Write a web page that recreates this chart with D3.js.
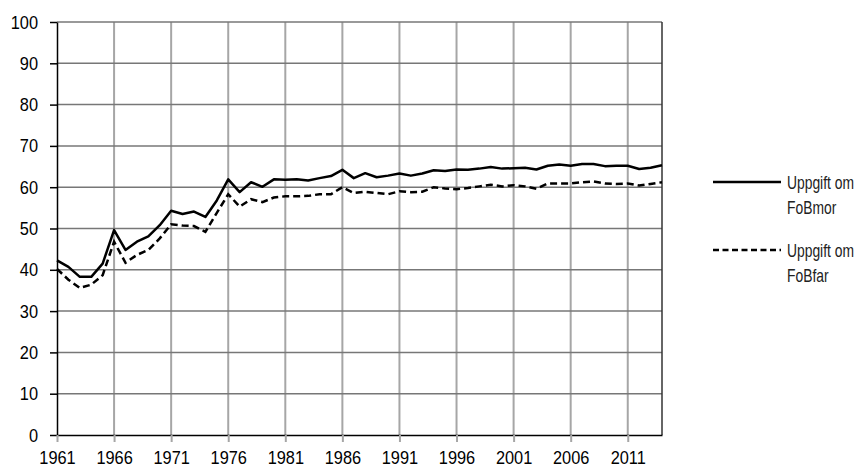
<!DOCTYPE html>
<html>
<head>
<meta charset="utf-8">
<script src="https://cdn.jsdelivr.net/npm/d3@7"></script>
<style>
  body { margin: 0; background: #fff; }
  svg text { font-family: "Liberation Sans", Arial, sans-serif; }
</style>
</head>
<body>
<div id="chart"></div>
<script>
const years = d3.range(1961, 2015);

const fobMor = [42.3, 40.7, 38.3, 38.3, 41.5, 49.6, 44.8, 46.8, 48.1, 50.8,
  54.3, 53.5, 54.1, 52.8, 56.8, 61.9, 58.8, 61.2, 60.1, 61.9,
  61.8, 61.9, 61.6, 62.2, 62.7, 64.2, 62.2, 63.4, 62.4, 62.8,
  63.3, 62.8, 63.3, 64.1, 63.9, 64.3, 64.2, 64.5, 64.9, 64.5,
  64.6, 64.7, 64.3, 65.2, 65.5, 65.2, 65.6, 65.6, 65.1, 65.2,
  65.2, 64.4, 64.7, 65.3];

const fobFar = [40.2, 37.6, 35.6, 36.4, 38.7, 46.8, 41.7, 43.6, 44.8, 47.6,
  51.0, 50.7, 50.6, 49.2, 53.8, 58.3, 55.3, 57.1, 56.4, 57.5,
  57.8, 57.8, 57.9, 58.3, 58.3, 60.0, 58.6, 58.9, 58.6, 58.3,
  59.0, 58.8, 58.9, 60.0, 59.7, 59.5, 59.8, 60.2, 60.6, 60.2,
  60.5, 60.2, 59.6, 60.9, 60.9, 60.9, 61.2, 61.4, 60.9, 60.8,
  60.9, 60.4, 60.8, 61.2];

const xTicks = [1961, 1966, 1971, 1976, 1981, 1986, 1991, 1996, 2001, 2006, 2011];
const yTicks = [0, 10, 20, 30, 40, 50, 60, 70, 80, 90, 100];
const seriesNames = ["Uppgift om FoBmor", "Uppgift om FoBfar"];

const width = 868, height = 469;
const m = { left: 57, right: 662, top: 22, bottom: 435 };

const svg = d3.select("#chart").append("svg")
  .attr("width", width)
  .attr("height", height);

const x = d3.scaleLinear().domain([1961, 2014]).range([m.left, m.right]);
const y = d3.scaleLinear().domain([0, 100]).range([m.bottom, m.top]);

// no narrow font installed, so squeeze the glyphs
function squeeze(sel, k) {
  sel.each(function () {
    const len = this.getComputedTextLength();
    d3.select(this).attr("textLength", len * k).attr("lengthAdjust", "spacingAndGlyphs");
  });
}

// vertical grid
svg.append("g")
  .selectAll("line")
  .data(xTicks.slice(1))
  .enter().append("line")
  .attr("x1", d => x(d)).attr("x2", d => x(d))
  .attr("y1", m.top).attr("y2", m.bottom)
  .attr("stroke", "#a6a6a6")
  .attr("stroke-width", 2);

// horizontal grid
svg.append("g")
  .selectAll("line")
  .data(yTicks.slice(1))
  .enter().append("line")
  .attr("x1", m.left).attr("x2", m.right)
  .attr("y1", d => y(d)).attr("y2", d => y(d))
  .attr("stroke", "#777")
  .attr("stroke-width", 1.5);

// right border
svg.append("line")
  .attr("x1", m.right).attr("x2", m.right)
  .attr("y1", m.top).attr("y2", m.bottom)
  .attr("stroke", "#333").attr("stroke-width", 1.5);

// y axis
const yAxis = svg.append("g")
  .attr("transform", `translate(${m.left},0)`)
  .call(d3.axisLeft(y).tickValues(yTicks).tickSize(7).tickPadding(12).tickSizeOuter(0));
yAxis.select(".domain").attr("stroke", "#000").attr("stroke-width", 1.5);
yAxis.selectAll(".tick line").attr("stroke", "#000").attr("stroke-width", 1.5);
yAxis.selectAll("text").attr("font-size", 19).attr("fill", "#000").style("font-family", "Liberation Sans, Arial, sans-serif")
  .call(squeeze, 0.86);

// x axis
const xAxis = svg.append("g")
  .attr("transform", `translate(0,${m.bottom})`)
  .call(d3.axisBottom(x).tickValues(xTicks).tickFormat(d3.format("d")).tickSize(7).tickPadding(9).tickSizeOuter(0));
xAxis.select(".domain").attr("stroke", "#000").attr("stroke-width", 1.5);
xAxis.selectAll(".tick line").attr("stroke", "#a6a6a6").attr("stroke-width", 2);
xAxis.selectAll("text").attr("font-size", 19).attr("fill", "#000").style("font-family", "Liberation Sans, Arial, sans-serif")
  .call(squeeze, 0.86);

// lines
const line = d3.line()
  .x((d, i) => x(years[i]))
  .y(d => y(d));

svg.append("path")
  .datum(fobMor)
  .attr("d", line)
  .attr("fill", "none")
  .attr("stroke", "#000")
  .attr("stroke-width", 2.5)
  .attr("stroke-linejoin", "round");

svg.append("path")
  .datum(fobFar)
  .attr("d", line)
  .attr("fill", "none")
  .attr("stroke", "#000")
  .attr("stroke-width", 2.5)
  .attr("stroke-dasharray", "7,4");

// legend
const legend = [
  { name: seriesNames[0], dash: null, y: 182 },
  { name: seriesNames[1], dash: "6,3.5", y: 250 }
];
const lg = svg.append("g").selectAll("g")
  .data(legend)
  .enter().append("g");

lg.append("line")
  .attr("x1", 713).attr("x2", 781)
  .attr("y1", d => d.y).attr("y2", d => d.y)
  .attr("stroke", "#000")
  .attr("stroke-width", 2.5)
  .attr("stroke-dasharray", d => d.dash);

// horizontal scale makes the legend text look like the narrow original
const lt = lg.append("text")
  .attr("transform", d => `translate(787,${d.y + 7}) scale(0.77,1)`)
  .attr("font-size", 18)
  .attr("fill", "#222");
lt.append("tspan").attr("x", 0).text(d => d.name.split(" ").slice(0, 2).join(" "));
lt.append("tspan").attr("x", 0).attr("dy", 25).text(d => d.name.split(" ")[2]);
</script>
</body>
</html>
